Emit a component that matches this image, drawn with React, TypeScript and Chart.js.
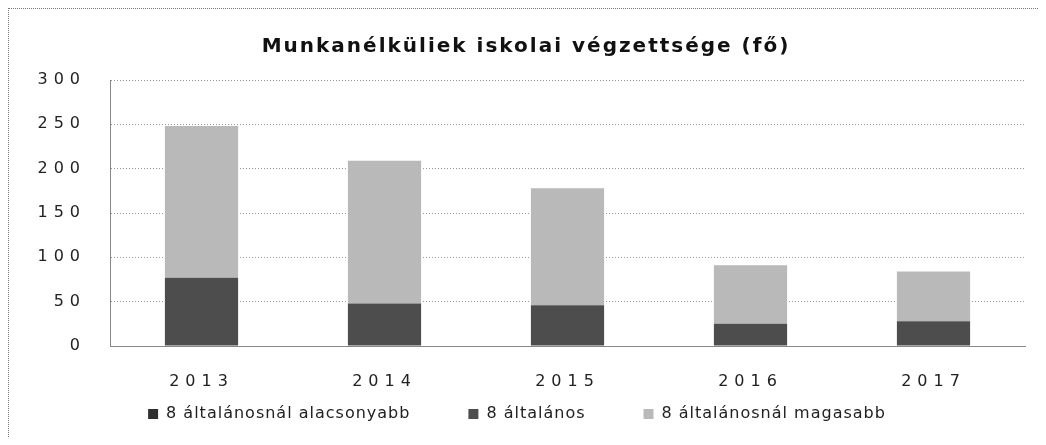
import React, { useEffect, useRef } from 'react';
import { Chart, registerables } from 'chart.js';

Chart.register(...registerables);

const categories = ['2013', '2014', '2015', '2016', '2017'];
const seriesLabels = ['8 általánosnál alacsonyabb', '8 általános', '8 általánosnál magasabb'];
const alacsonyabb = [0, 0, 0, 0, 0];
const altalanos = [77, 48, 46, 25, 28];
const magasabb = [171, 161, 132, 66, 56];
const yMin = 0;
const yMax = 300;
const yStep = 50;
const titleText = 'Munkanélküliek iskolai végzettsége (fő)';

const FONT = "'DejaVu Sans', sans-serif";
const LEGEND_PAD = 58;
const LEGEND_H = 45;
const LEGEND_SHIFT = -44;
const X_AXIS_H = 46;

const stylePlugin = {
  id: 'stylePlugin',
  beforeLayout(chart: any) {
    const lg = chart.legend;
    if (lg && !lg._fitPatched) {
      const f = lg.fit.bind(lg);
      lg.fit = () => {
        const ctx = chart.ctx;
        ctx.save();
        ctx.letterSpacing = '1px';
        f();
        ctx.restore();
        lg.height = LEGEND_H;
      };
      const d = lg.draw.bind(lg);
      lg.draw = () => {
        const ctx = chart.ctx;
        const t = lg.top;
        lg.top = t + LEGEND_SHIFT;
        ctx.save();
        ctx.letterSpacing = '1px';
        d();
        ctx.restore();
        lg.top = t;
      };
      lg._fitPatched = true;
    }
    const tb = chart.titleBlock;
    if (tb && !tb._lsPatched) {
      const d = tb.draw.bind(tb);
      tb.draw = () => {
        const ctx = chart.ctx;
        ctx.save();
        ctx.letterSpacing = '2px';
        ctx.translate(9, 0);
        d();
        ctx.restore();
      };
      tb._lsPatched = true;
    }
  },
  afterLayout(chart: any) {
    ['x', 'y'].forEach((id) => {
      const s = chart.scales[id];
      if (s && !s._lsPatched) {
        const orig = s.drawLabels.bind(s);
        s.drawLabels = (area: any) => {
          const ctx = chart.ctx;
          ctx.save();
          ctx.letterSpacing = '6px';
          orig(area);
          ctx.restore();
        };
        s._lsPatched = true;
      }
    });
  },
};

export default function App() {
  const ref = useRef<HTMLCanvasElement | null>(null);

  useEffect(() => {
    if (!ref.current) return;
    const chart = new Chart(ref.current, {
      type: 'bar',
      data: {
        labels: categories,
        datasets: [
          { label: seriesLabels[0], data: alacsonyabb, backgroundColor: '#2f2f2f' },
          { label: seriesLabels[1], data: altalanos, backgroundColor: '#4d4d4d' },
          { label: seriesLabels[2], data: magasabb, backgroundColor: '#b9b9b9' },
        ],
      },
      plugins: [stylePlugin],
      options: {
        animation: false,
        responsive: false,
        maintainAspectRatio: false,
        datasets: { bar: { barPercentage: 0.4, categoryPercentage: 1 } },
        layout: { padding: { left: 0, right: 13, top: 0, bottom: 0 } },
        plugins: {
          title: {
            display: true,
            text: titleText,
            color: '#111',
            font: { family: FONT, size: 20, weight: 'bold' },
            padding: { top: 26, bottom: 21 },
          },
          legend: {
            position: 'bottom',
            labels: {
              color: '#222',
              font: { family: FONT, size: 16 },
              boxWidth: 10,
              boxHeight: 10,
              padding: LEGEND_PAD,
            },
          },
          tooltip: { enabled: false },
        },
        scales: {
          x: {
            stacked: true,
            grid: { display: false, drawTicks: false },
            border: { display: true, color: '#888', dash: [1, 2] },
            ticks: { color: '#222', font: { family: FONT, size: 16 }, padding: 26, maxRotation: 0 },
            afterFit: (s: any) => { s.height = X_AXIS_H; },
          },
          y: {
            stacked: true,
            min: yMin,
            max: yMax,
            ticks: { stepSize: yStep, color: '#222', font: { family: FONT, size: 16 }, padding: 24 },
            grid: { color: '#999', drawTicks: false },
            border: { display: true, color: '#888', dash: [1, 2] },
            afterFit: (s: any) => { s.width = 101; },
          },
        },
      },
    } as any);
    return () => chart.destroy();
  }, []);

  return (
    <div
      style={{
        position: 'relative',
        width: 1030,
        height: 429,
        boxSizing: 'border-box',
        borderLeft: '1px dotted #777',
        borderTop: '1px dotted #777',
      }}
    >
      <canvas ref={ref} width={1029} height={428} style={{ position: 'absolute', left: 0, top: 0, width: 1029, height: 428 }} />
    </div>
  );
}
